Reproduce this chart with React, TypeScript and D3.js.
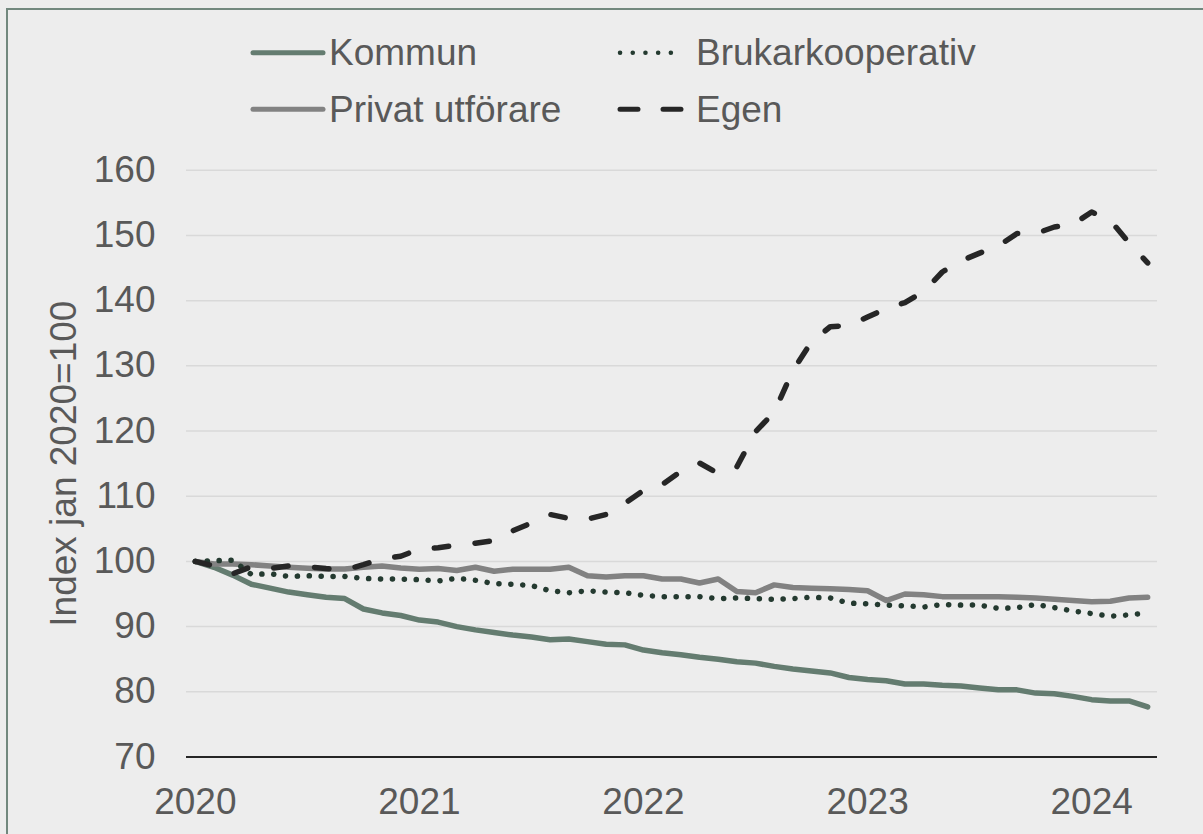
import React from "react";
import * as d3 from "d3";

const months: string[] = [];
for (let y = 2020; y <= 2024; y++) {
  for (let m = 1; m <= 12; m++) {
    if (y === 2024 && m > 4) break;
    months.push(`${y}-${String(m).padStart(2, "0")}`);
  }
}

const yearLabels = ["2020", "2021", "2022", "2023", "2024"];
const yTicks = [70, 80, 90, 100, 110, 120, 130, 140, 150, 160];

const kommun = [100, 99.1, 97.9, 96.5, 95.9, 95.3, 94.9, 94.5, 94.3, 92.7, 92.1, 91.7, 91.0, 90.7, 90.0, 89.5, 89.1, 88.7, 88.4, 88.0, 88.1, 87.7, 87.3, 87.2, 86.4, 86.0, 85.7, 85.3, 85.0, 84.6, 84.4, 83.9, 83.5, 83.2, 82.9, 82.2, 81.9, 81.7, 81.2, 81.2, 81.0, 80.9, 80.6, 80.3, 80.3, 79.8, 79.7, 79.3, 78.8, 78.6, 78.6, 77.7];
const privat = [100, 99.6, 99.6, 99.5, 99.3, 99.1, 98.95, 98.85, 98.85, 99.1, 99.3, 99.0, 98.8, 98.9, 98.6, 99.1, 98.5, 98.8, 98.8, 98.8, 99.1, 97.8, 97.6, 97.8, 97.8, 97.3, 97.3, 96.7, 97.3, 95.4, 95.2, 96.4, 96.0, 95.9, 95.8, 95.7, 95.5, 94.0, 95.0, 94.9, 94.6, 94.6, 94.6, 94.6, 94.5, 94.4, 94.2, 94.0, 93.8, 93.9, 94.4, 94.5];
const brukar = [100, 100.1, 100.2, 98.0, 98.1, 97.7, 97.8, 97.7, 97.7, 97.4, 97.3, 97.3, 97.2, 97.0, 97.4, 97.1, 96.6, 96.5, 96.3, 95.5, 95.2, 95.5, 95.3, 95.2, 94.8, 94.6, 94.6, 94.6, 94.3, 94.4, 94.3, 94.2, 94.3, 94.5, 94.4, 93.6, 93.5, 93.3, 93.2, 93.0, 93.4, 93.3, 93.3, 92.8, 92.9, 93.4, 92.9, 92.4, 92.0, 91.6, 91.8, 92.1];
const egen = [100, 99.3, 98.1, 99.2, 98.9, 99.3, 99.2, 98.9, 98.7, 99.5, 100.4, 100.8, 101.9, 102.1, 102.5, 102.8, 103.2, 104.7, 105.9, 107.2, 106.6, 106.5, 107.2, 108.9, 110.9, 111.8, 113.8, 115.1, 113.5, 114.5, 119.9, 122.9, 129.3, 133.7, 136.0, 136.2, 137.5, 138.8, 139.7, 141.4, 144.4, 146.1, 147.3, 148.4, 150.3, 150.3, 151.3, 151.7, 153.6, 152.3, 148.9, 145.8];

const seriesNames = ["Kommun", "Brukarkooperativ", "Privat utförare", "Egen"];

const FONT = "'Liberation Sans', Arial, sans-serif";
const TEXT = "#595959";
const W = 1203;
const H = 834;

export default function App() {
  const x = d3.scaleBand<string>().domain(months).range([186, 1157]).padding(0);
  const y = d3.scaleLinear().domain([70, 160]).range([757, 170.3]);
  const cx = (i: number) => (x(months[i]) as number) + x.bandwidth() / 2;
  const line = d3
    .line<number>()
    .x((_, i) => cx(i))
    .y((d) => y(d));

  const styles: Record<string, any> = {
    Kommun: { stroke: "#647c70", dash: undefined, data: kommun },
    "Privat utförare": { stroke: "#828282", dash: undefined, data: privat },
    Brukarkooperativ: { stroke: "#243a30", dash: "0.1 11.8", data: brukar },
    Egen: { stroke: "#262626", dash: "14.5 26.5", data: egen },
  };
  const drawOrder = ["Kommun", "Privat utförare", "Brukarkooperativ", "Egen"];

  const legendPos: Record<string, [number, number]> = {
    Kommun: [253, 52.7],
    Brukarkooperativ: [620, 52.7],
    "Privat utförare": [253, 109.3],
    Egen: [620, 109.3],
  };

  return (
    <div style={{ position: "fixed", left: 0, top: 0, width: W, height: H, background: "#ededed" }}>
      <svg width={W} height={H} style={{ display: "block" }} fontFamily={FONT}>
        <rect x={0} y={0} width={W} height={H} fill="#ededed" />
        <rect x={7} y={9} width={1210} height={900} fill="none" stroke="#72887e" strokeWidth={2} />

        {yTicks.filter((t) => t > 70).map((t) => (
          <line key={t} x1={186} x2={1157} y1={y(t)} y2={y(t)} stroke="#d9d9d9" strokeWidth={1.5} />
        ))}

        {yTicks.map((t) => (
          <text key={t} x={155.5} y={y(t) + 11.5} textAnchor="end" fontSize={37} fill={TEXT}>
            {t}
          </text>
        ))}

        <text
          transform={`translate(76, ${(y(70) + y(160)) / 2}) rotate(-90)`}
          textAnchor="middle"
          fontSize={37}
          fill={TEXT}
        >
          Index jan 2020=100
        </text>

        {drawOrder.map((name) => {
          const s = styles[name];
          return (
            <path
              key={name}
              d={line(s.data) || ""}
              fill="none"
              stroke={s.stroke}
              strokeWidth={name === "Brukarkooperativ" ? 5.5 : 5.5}
              strokeDasharray={s.dash}
              strokeLinecap="round"
              strokeLinejoin="round"
            />
          );
        })}

        <line x1={186} x2={1157} y1={y(70)} y2={y(70)} stroke="#262626" strokeWidth={2} />

        {yearLabels.map((yr) => {
          const i = months.indexOf(`${yr}-01`);
          return (
            <text key={yr} x={cx(i)} y={y(70) + 57} textAnchor="middle" fontSize={37} fill={TEXT}>
              {yr}
            </text>
          );
        })}

        {seriesNames.map((name) => {
          const s = styles[name];
          const [lx, ly] = legendPos[name];
          return (
            <g key={name}>
              <line
                x1={lx}
                x2={name === "Brukarkooperativ" ? lx + 63 : lx + 70}
                y1={ly}
                y2={ly}
                stroke={s.stroke}
                strokeWidth={name === "Brukarkooperativ" ? 4.5 : 5}
                strokeDasharray={name === "Egen" ? "18 25" : name === "Brukarkooperativ" ? "0.1 12.6" : undefined}
                strokeLinecap="round"
              />
              <text x={lx + 76} y={ly + 12.3} fontSize={37} fill={TEXT}>
                {name}
              </text>
            </g>
          );
        })}
      </svg>
    </div>
  );
}
